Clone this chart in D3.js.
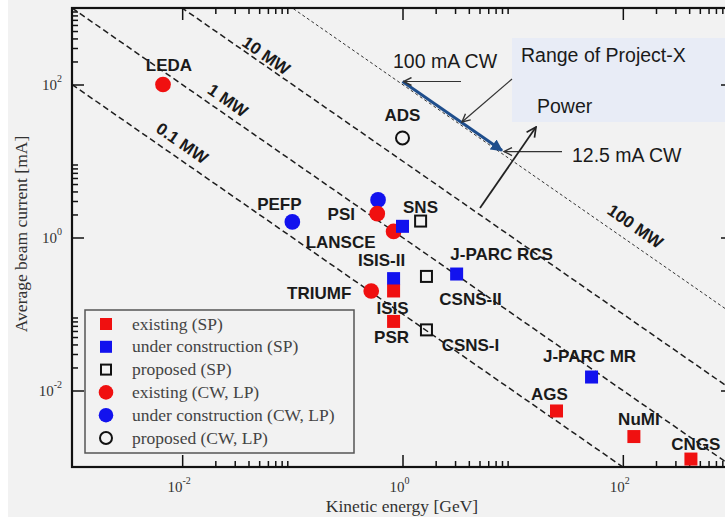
<!DOCTYPE html>
<html><head><meta charset="utf-8">
<script src="https://cdn.jsdelivr.net/npm/d3@7"></script>
<style>body{margin:0;background:#f2f2f2}svg{display:block}</style>
</head><body><svg id="c" width="725" height="517"></svg>
<script>
// ---------- data ----------
const names    = ["LEDA","PEFP","","PSI","LANSCE","SNS","","ISIS-II","ISIS","PSR","TRIUMF","CSNS-II","CSNS-I","J-PARC RCS","J-PARC MR","AGS","NuMI","CNGS","ADS"];
const energies = [0.0067,0.1,0.6,0.59,0.83,1.0,1.46,0.83,0.83,0.83,0.52,1.65,1.65,3.1,52,25,126,415,1.0];   // GeV
const currents = [100,1.6,3.1,2.05,1.2,1.4,1.64,0.29,0.2,0.08,0.2,0.31,0.062,0.333,0.015,0.0054,0.0025,0.00127,20]; // mA
const kinds    = ["exCW","ucCW","ucCW","exCW","exCW","ucSP","prSP","ucSP","exSP","exSP","exCW","prSP","prSP","ucSP","ucSP","exSP","exSP","exSP","prCW"];

const powerLevels = [0.1, 1, 10, 100];            // MW
const powerLabels = ["0.1 MW","1 MW","10 MW","100 MW"];
const powerLabelEnergy = [0.01, 0.026, 0.058, 130];  // GeV where label sits

const legendKinds  = ["exSP","ucSP","prSP","exCW","ucCW","prCW"];
const legendLabels = ["existing (SP)","under construction (SP)","proposed (SP)","existing (CW, LP)","under construction (CW, LP)","proposed (CW, LP)"];

const majorTicks = [1e-2, 1, 1e2];
const majorExp   = ["-2","0","2"];
const minorDecades = [1e-2, 1, 1e2];
const minorMult = [2,3,4,5,6,7,8,9];

const projectRange = [[1.0,100],[8.0,12.5]];   // GeV, mA along 100 MW line

// ---------- styles / layout ----------
const W = 725, H = 517;
const M = {l:72, t:8, r:733, b:467};
const RED = "#f01010", BLUE = "#1212ee";
const labelOffset = {
  "LEDA":[6,-19],"PEFP":[-13,-18],"PSI":[-36,0],"LANSCE":[-53,11],"SNS":[18,-19],
  "ISIS-II":[-12,-19],"ISIS":[-1,17],"PSR":[-2,16],"TRIUMF":[-52,2],"CSNS-II":[44,23],
  "CSNS-I":[44,15],"J-PARC RCS":[45,-20],"J-PARC MR":[-2,-21],"AGS":[-7,-17],
  "NuMI":[5,-18],"CNGS":[5,-15],"ADS":[0,-23]
};
const powerLabelLift = [18,16,11,20];

const svg = d3.select("#c");
const x = d3.scaleLog().domain([1e-3,1e3]).range([M.l, M.r]);
const y = d3.scaleLog().domain([1e-3,1e3]).range([M.b, M.t]);

svg.append("rect").attr("width",W).attr("height",H).attr("fill","#f2f2f2");
svg.append("rect").attr("width",8).attr("height",H).attr("fill","#ffffff");

const defs = svg.append("defs");
defs.append("clipPath").attr("id","clip").append("rect")
  .attr("x",M.l).attr("y",M.t).attr("width",M.r-M.l).attr("height",M.b-M.t);
function marker(id, color, filled, size){
  const m = defs.append("marker").attr("id",id).attr("viewBox","0 0 10 10")
    .attr("refX",9).attr("refY",5).attr("markerWidth",size).attr("markerHeight",size)
    .attr("orient","auto-start-reverse").attr("markerUnits","userSpaceOnUse");
  if(filled) m.append("path").attr("d","M0,0 L10,5 L0,10 z").attr("fill",color);
  else m.append("path").attr("d","M1,1 L9,5 L1,9").attr("fill","none").attr("stroke",color).attr("stroke-width",1.4);
}
marker("aThin","#333",false,10);
marker("aBlack","#222",false,12);
marker("aBlue","#1f4e8c",true,12);

// Project-X box
svg.append("rect").attr("x",512).attr("y",38).attr("width",230).attr("height",84).attr("fill","#e8ecf6");
svg.append("text").attr("x",521).attr("y",62).attr("font-family","Liberation Sans, Arial, sans-serif")
  .attr("font-size",19.5).attr("fill","#1a1a1a").text("Range of Project-X");
svg.append("text").attr("x",537).attr("y",113).attr("font-family","Liberation Sans, Arial, sans-serif")
  .attr("font-size",19.5).attr("fill","#1a1a1a").text("Power");

const plot = svg.append("g").attr("clip-path","url(#clip)");

// power lines
const lineGen = d3.line().x(d=>x(d[0])).y(d=>y(d[1]));
powerLevels.forEach((p,i)=>{
  plot.append("path").attr("d", lineGen([[1e-3,p/1e-3],[1e3,p/1e3]]))
    .attr("fill","none").attr("stroke", i===3?"#333":"#1e1e1e")
    .attr("stroke-width", i===3?1:1.5)
    .attr("stroke-dasharray", i===3?"3,2.5":"6,3.5");
});
const ang = Math.atan2(y(1e-1)-y(1), x(10)-x(1)) * 180/Math.PI;
powerLabels.forEach((t,i)=>{
  const e = powerLabelEnergy[i];
  const cx = x(e), cy = y(powerLevels[i]/e) - powerLabelLift[i];
  svg.append("text").attr("transform",`translate(${cx},${cy}) rotate(${ang})`)
    .attr("text-anchor","middle").attr("dy","0.35em")
    .attr("font-family","Liberation Sans, Arial, sans-serif").attr("font-weight","bold")
    .attr("font-size",17).attr("fill","#1a1a1a").text(t);
});

// axes ticks (inward) via d3.axis
const minorVals = [];
minorDecades.forEach(d=>minorMult.forEach(k=>minorVals.push(k*d)));
function addAxis(gen, tx, ty){
  const g = svg.append("g").attr("transform",`translate(${tx},${ty})`).call(gen);
  g.select(".domain").remove();
  g.selectAll(".tick line").attr("stroke","#111").attr("stroke-width",1.5);
  g.selectAll(".tick text").remove();
}
addAxis(d3.axisBottom(x).tickValues(majorTicks).tickSize(-12).tickFormat(""),0,M.b);
addAxis(d3.axisBottom(x).tickValues(minorVals).tickSize(-6).tickFormat(""),0,M.b);
addAxis(d3.axisTop(x).tickValues(majorTicks).tickSize(-12).tickFormat(""),0,M.t);
addAxis(d3.axisTop(x).tickValues(minorVals).tickSize(-6).tickFormat(""),0,M.t);
addAxis(d3.axisLeft(y).tickValues(majorTicks).tickSize(-12).tickFormat(""),M.l,0);
addAxis(d3.axisLeft(y).tickValues(minorVals).tickSize(-6).tickFormat(""),M.l,0);
addAxis(d3.axisRight(y).tickValues(majorTicks).tickSize(-12).tickFormat(""),M.r,0);
addAxis(d3.axisRight(y).tickValues(minorVals).tickSize(-6).tickFormat(""),M.r,0);

// frame
svg.append("rect").attr("x",M.l).attr("y",M.t).attr("width",M.r-M.l).attr("height",M.b-M.t)
  .attr("fill","none").attr("stroke","#111").attr("stroke-width",2.2);

// tick labels
const serif = "Liberation Serif, Times New Roman, serif";
majorTicks.forEach((v,i)=>{
  const tx = svg.append("text").attr("x",x(v)-3).attr("y",492).attr("text-anchor","middle")
    .attr("font-family",serif).attr("font-size",15).attr("fill","#333");
  tx.append("tspan").text("10");
  tx.append("tspan").attr("dy",-8).attr("font-size",10).text(majorExp[i]);
  const ty = svg.append("text").attr("x",62).attr("y",y(v)+5).attr("text-anchor","end")
    .attr("font-family",serif).attr("font-size",15).attr("fill","#333");
  ty.append("tspan").text("10");
  ty.append("tspan").attr("dy",-8).attr("font-size",10).text(majorExp[i]);
});
svg.append("text").attr("x",402).attr("y",512).attr("text-anchor","middle")
  .attr("font-family",serif).attr("font-size",17.5).attr("fill","#333").text("Kinetic energy [GeV]");
svg.append("text").attr("transform","translate(27,234) rotate(-90)").attr("text-anchor","middle")
  .attr("font-family",serif).attr("font-size",17.5).attr("fill","#333").text("Average beam current [mA]");

// symbols
function drawSym(g, kind, cx, cy, s){
  const col = kind.startsWith("ex") ? RED : kind.startsWith("uc") ? BLUE : null;
  if(kind.endsWith("SP")){
    if(col) g.append("rect").attr("x",cx-s/2).attr("y",cy-s/2).attr("width",s).attr("height",s).attr("fill",col);
    else g.append("rect").attr("x",cx-s/2+1).attr("y",cy-s/2+1).attr("width",s-2).attr("height",s-2)
      .attr("fill","none").attr("stroke","#111").attr("stroke-width",2);
  } else {
    if(col) g.append("circle").attr("cx",cx).attr("cy",cy).attr("r",s*0.56).attr("fill",col);
    else g.append("circle").attr("cx",cx).attr("cy",cy).attr("r",s*0.5-0.5)
      .attr("fill","none").attr("stroke","#111").attr("stroke-width",2);
  }
}

// annotation arrows
const p0 = [x(projectRange[0][0]), y(projectRange[0][1])-3];
const p1 = [x(projectRange[1][0]), y(projectRange[1][1])-3];
svg.append("line").attr("x1",p0[0]).attr("y1",p0[1]).attr("x2",p1[0]).attr("y2",p1[1])
  .attr("stroke","#1f4e8c").attr("stroke-width",3).attr("marker-end","url(#aBlue)");
svg.append("line").attr("x1",461).attr("y1",p0[1]).attr("x2",p0[0]+1).attr("y2",p0[1])
  .attr("stroke","#333").attr("stroke-width",1.2).attr("marker-end","url(#aThin)");
svg.append("line").attr("x1",562).attr("y1",p1[1]+1).attr("x2",p1[0]+2).attr("y2",p1[1]+1)
  .attr("stroke","#333").attr("stroke-width",1.2).attr("marker-end","url(#aThin)");
svg.append("line").attr("x1",512).attr("y1",79).attr("x2",462).attr("y2",122)
  .attr("stroke","#333").attr("stroke-width",1.2).attr("marker-end","url(#aThin)");
svg.append("line").attr("x1",480).attr("y1",208).attr("x2",536).attr("y2",127)
  .attr("stroke","#222").attr("stroke-width",1.8).attr("marker-end","url(#aBlack)");
svg.append("text").attr("x",393).attr("y",68).attr("font-family","Liberation Sans, Arial, sans-serif")
  .attr("font-size",19.5).attr("fill","#1a1a1a").text("100 mA CW");
svg.append("text").attr("x",572).attr("y",162).attr("font-family","Liberation Sans, Arial, sans-serif")
  .attr("font-size",19.5).attr("fill","#1a1a1a").text("12.5 mA CW");

// data points
const pts = svg.append("g");
names.forEach((n,i)=>{
  const size = kinds[i].endsWith("SP") ? 13 : 14;
  drawSym(pts, kinds[i], x(energies[i]), y(currents[i]), size);
});
names.forEach((n,i)=>{
  if(!n) return;
  const o = labelOffset[n];
  svg.append("text").attr("x",x(energies[i])+o[0]).attr("y",y(currents[i])+o[1])
    .attr("text-anchor","middle").attr("dy","0.35em")
    .attr("font-family","Liberation Sans, Arial, sans-serif").attr("font-weight","bold")
    .attr("font-size",17).attr("fill","#1a1a1a").text(n);
});

// legend
const lg = svg.append("g");
lg.append("rect").attr("x",85).attr("y",310).attr("width",269).attr("height",143)
  .attr("fill","#f2f2f2").attr("stroke","#555").attr("stroke-width",1.5);
legendKinds.forEach((k,i)=>{
  const cy = 324 + i*22.8;
  drawSym(lg, k, 106, cy, k.endsWith("SP") ? 12 : 13);
  lg.append("text").attr("x",132).attr("y",cy+5.5).attr("font-family",serif)
    .attr("font-size",17.5).attr("fill","#444").text(legendLabels[i]);
});
</script></body></html>
